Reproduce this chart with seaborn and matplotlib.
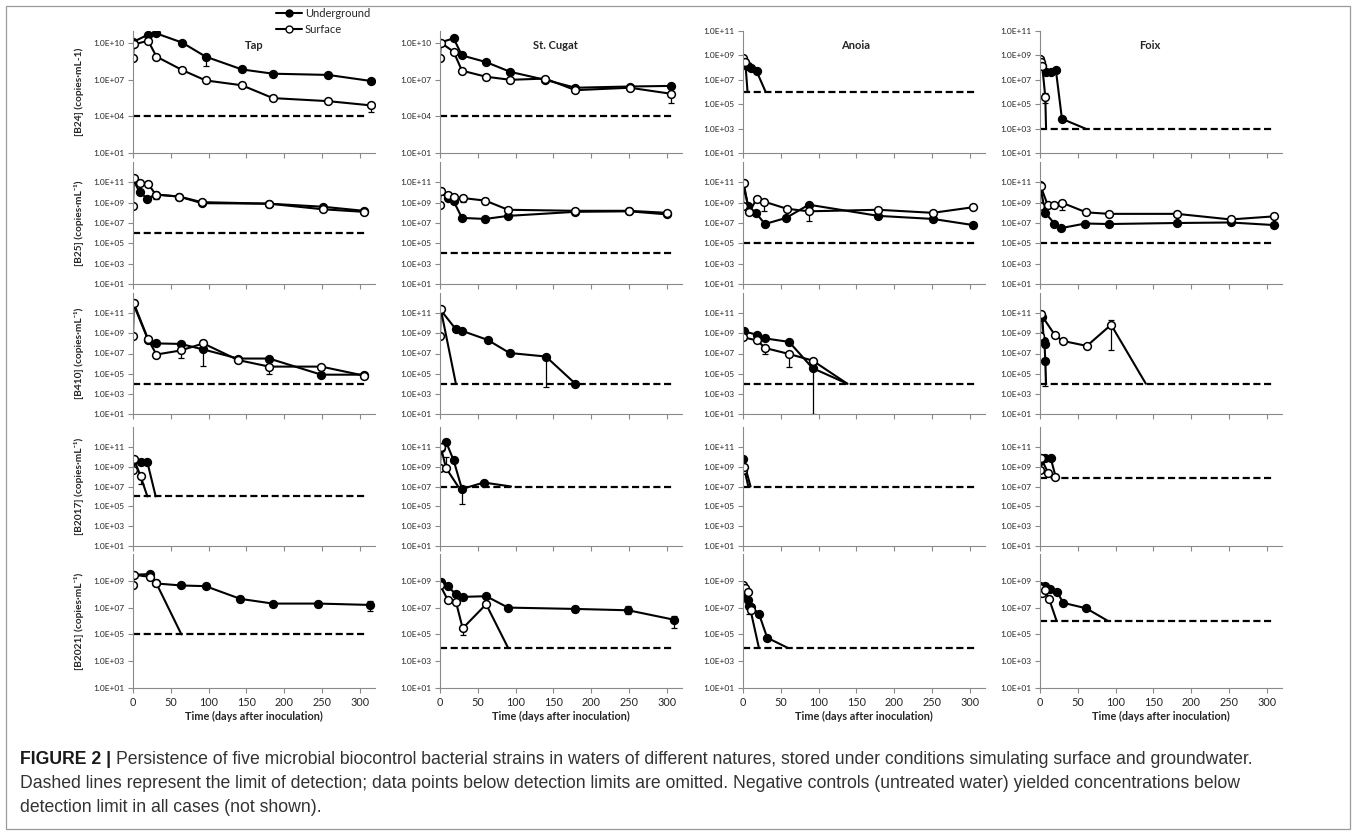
import numpy as np
import matplotlib
matplotlib.use("Agg")
import matplotlib.pyplot as plt
from matplotlib.lines import Line2D
from matplotlib.patches import Rectangle
from matplotlib.ticker import FixedLocator, FuncFormatter, NullLocator
import seaborn as sns

# ---------------------------------------------------------------- data
# values are log10(copies/mL), days after inoculation
WATERS = ["Tap", "St. Cugat", "Anoia", "Foix"]
STRAINS = ["B24", "B25", "B410", "B2017", "B2021"]
YLABELS = ["[B24] (copies·mL-1)", "[B25] (copies·mL⁻¹)", "[B410] (copies·mL⁻¹)",
           "[B2017] (copies·mL⁻¹)", "[B2021] (copies·mL⁻¹)"]

B24_UG = {
    "Tap": ([0, 20, 31, 65, 96, 144, 185, 258, 315], [10.1, 10.7, 10.8, 10.05, 8.9, 7.85, 7.5, 7.4, 6.9]),
    "St. Cugat": ([0, 18, 29, 61, 93, 139, 179, 251, 306], [10.05, 10.4, 9.0, 8.45, 7.65, 7.0, 6.35, 6.45, 6.5]),
    "Anoia": ([0, 3, 7, 10, 18], [8.6, 8.2, 8.1, 8.0, 7.7]),
    "Foix": ([0, 3, 8, 14, 21, 29], [8.5, 8.1, 7.6, 7.65, 7.8, 3.8]),
}
B24_S = {
    "Tap": ([0, 1, 20, 31, 65, 96, 144, 185, 258, 315], [8.75, 9.9, 10.2, 8.9, 7.8, 6.95, 6.55, 5.5, 5.25, 4.9]),
    "St. Cugat": ([0, 1, 18, 29, 61, 93, 139, 179, 251, 306], [8.75, 10.05, 9.3, 7.75, 7.25, 7.0, 7.1, 6.15, 6.35, 5.85]),
    "Anoia": ([0, 3], [8.8, 8.5]),
    "Foix": ([0, 1, 3, 7], [8.7, 8.45, 8.1, 5.6]),
}
B24_UG_DROP = {"Anoia": 30, "Foix": 60}
B24_S_DROP = {"Anoia": 6, "Foix": 8}
B24_LOD = [4, 4, 6, 3]
B24_ERR = [("Tap", "UG", 96, 8.15, 8.9), ("Tap", "S", 315, 4.4, 4.9),
           ("St. Cugat", "S", 306, 5.1, 6.0), ("Foix", "S", 7, 5.1, 5.9)]

B25_UG = {
    "Tap": ([0, 9, 19, 30, 61, 91, 180, 251, 305], [11.3, 10.0, 9.4, 9.8, 9.6, 8.95, 8.9, 8.6, 8.2]),
    "St. Cugat": ([0, 10, 18, 29, 60, 90, 179, 250, 300], [10.1, 9.45, 9.15, 7.5, 7.4, 7.7, 8.1, 8.15, 7.85]),
    "Anoia": ([0, 7, 17, 29, 57, 87, 179, 251, 304], [10.9, 8.65, 8.0, 6.9, 7.5, 8.8, 7.7, 7.4, 6.8]),
    "Foix": ([0, 7, 19, 28, 60, 91, 181, 252, 309], [10.75, 8.0, 6.95, 6.5, 6.95, 6.9, 7.0, 7.05, 6.8]),
}
B25_S = {
    "Tap": ([0, 1, 9, 20, 30, 61, 91, 180, 251, 305], [8.7, 11.4, 10.9, 10.85, 9.8, 9.6, 9.05, 8.9, 8.35, 8.1]),
    "St. Cugat": ([0, 1, 10, 18, 31, 60, 90, 179, 250, 300], [8.8, 10.1, 9.75, 9.55, 9.45, 9.2, 8.3, 8.2, 8.2, 8.0]),
    "Anoia": ([0, 1, 8, 18, 28, 58, 87, 179, 251, 304], [8.7, 10.9, 8.05, 9.35, 9.1, 8.4, 8.15, 8.3, 8.0, 8.55]),
    "Foix": ([0, 1, 10, 19, 29, 61, 91, 181, 252, 309], [8.7, 10.6, 8.8, 8.8, 9.0, 8.05, 7.9, 7.9, 7.35, 7.65]),
}
B25_UG_DROP = {}
B25_S_DROP = {}
B25_LOD = [6, 4, 5, 5]
B25_ERR = [("Tap", "UG", 19, 9.2, 9.5), ("Tap", "S", 30, 9.4, 9.8),
           ("St. Cugat", "S", 31, 9.1, 9.7), ("St. Cugat", "S", 60, 8.9, 9.5),
           ("Anoia", "S", 28, 8.2, 9.4), ("Anoia", "S", 87, 7.2, 8.15),
           ("Anoia", "UG", 304, 6.6, 6.8), ("Foix", "S", 29, 8.3, 9.1)]

B410_UG = {
    "Tap": ([0, 20, 31, 63, 93, 139, 180, 249, 306], [12.0, 8.35, 8.0, 7.95, 7.4, 6.5, 6.5, 4.9, 4.9]),
    "St. Cugat": ([0, 21, 29, 63, 92, 140, 179], [11.4, 9.4, 9.25, 8.35, 7.05, 6.7, 4.0]),
    "Anoia": ([1, 19, 29, 61, 92], [9.2, 8.85, 8.5, 8.15, 5.55]),
    "Foix": ([3, 5, 6, 7], [10.65, 8.2, 7.95, 6.3]),
}
B410_S = {
    "Tap": ([0, 1, 20, 31, 63, 93, 139, 180, 249, 306], [8.7, 12.0, 8.4, 6.9, 7.3, 8.0, 6.35, 5.7, 5.7, 4.8]),
    "St. Cugat": ([0, 1], [8.7, 11.4]),
    "Anoia": ([0, 19, 29, 61, 92], [8.6, 8.3, 7.55, 6.95, 6.3]),
    "Foix": ([0, 1, 20, 30, 62, 94], [8.7, 10.9, 8.8, 8.25, 7.75, 9.85]),
}
B410_UG_DROP = {"Anoia": 138, "Foix": 8}
B410_S_DROP = {"St. Cugat": 21, "Anoia": 138, "Foix": 140}
B410_LOD = [4, 4, 4, 4]
B410_ERR = [("Tap", "S", 63, 6.55, 7.3), ("Tap", "UG", 93, 5.8, 7.4), ("Tap", "S", 93, 8.0, 8.3),
            ("Tap", "S", 180, 5.0, 5.7), ("Tap", "S", 306, 4.8, 5.0),
            ("St. Cugat", "UG", 140, 3.7, 6.7), ("Anoia", "S", 29, 7.0, 7.55),
            ("Anoia", "S", 61, 5.7, 6.95), ("Anoia", "S", 92, 1.0, 6.3),
            ("Foix", "S", 94, 7.3, 10.3), ("Foix", "UG", 7, 3.8, 6.3)]

B2017_UG = {
    "Tap": ([0, 10, 19], [9.6, 9.45, 9.45]),
    "St. Cugat": ([1, 8, 18, 29, 58], [10.85, 11.5, 9.65, 6.75, 7.4]),
    "Anoia": ([0], [9.8]),
    "Foix": ([0, 7, 14], [9.6, 9.9, 9.9]),
}
B2017_S = {
    "Tap": ([0, 1, 10], [8.7, 9.8, 8.05]),
    "St. Cugat": ([0, 1, 8], [8.9, 11.0, 8.85]),
    "Anoia": ([0, 1], [8.7, 9.0]),
    "Foix": ([0, 1, 11, 20], [8.7, 9.9, 8.35, 7.95]),
}
B2017_UG_DROP = {"Tap": 30, "St. Cugat": 94, "Anoia": 10, "Foix": 21}
B2017_S_DROP = {"Tap": 19, "St. Cugat": 24, "Anoia": 7}
B2017_LOD = [6, 7, 7, 7.9]
B2017_ERR = [("St. Cugat", "UG", 29, 5.2, 6.75), ("St. Cugat", "S", 8, 8.85, 10.0),
             ("Tap", "S", 10, 7.3, 8.05)]

B2021_UG = {
    "Tap": ([0, 22, 31, 64, 96, 142, 185, 245, 313], [9.45, 9.5, 8.8, 8.65, 8.6, 7.65, 7.3, 7.3, 7.2]),
    "St. Cugat": ([1, 10, 21, 30, 61, 90, 179, 249, 309], [8.9, 8.6, 8.0, 7.8, 7.85, 7.0, 6.9, 6.8, 6.1]),
    "Anoia": ([0, 3, 6, 8, 11, 21, 32], [8.0, 8.05, 7.55, 7.1, 7.05, 6.55, 4.75]),
    "Foix": ([0, 7, 13, 22, 31, 61], [8.6, 8.6, 8.4, 8.2, 7.35, 6.95]),
}
B2021_S = {
    "Tap": ([0, 1, 22, 31], [8.7, 9.45, 9.3, 8.8]),
    "St. Cugat": ([0, 10, 21, 30, 61], [8.7, 7.6, 7.45, 5.45, 7.25]),
    "Anoia": ([0, 3, 7, 10], [8.7, 8.45, 8.2, 6.8]),
    "Foix": ([0, 3, 7, 12], [8.5, 8.1, 8.3, 7.65]),
}
B2021_UG_DROP = {"Anoia": 59, "Foix": 90}
B2021_S_DROP = {"Tap": 64, "St. Cugat": 90, "Anoia": 21, "Foix": 22}
B2021_LOD = [5, 4, 4, 6]
B2021_ERR = [("Tap", "UG", 142, 7.4, 7.9), ("Tap", "UG", 245, 7.05, 7.5), ("Tap", "UG", 313, 6.75, 7.5),
             ("St. Cugat", "S", 30, 4.95, 5.6), ("St. Cugat", "UG", 179, 6.7, 7.1),
             ("St. Cugat", "UG", 249, 6.5, 7.1), ("St. Cugat", "UG", 309, 5.5, 6.4),
             ("Anoia", "UG", 8, 6.5, 7.1)]

ROWS = [
    (B24_UG, B24_S, B24_UG_DROP, B24_S_DROP, B24_LOD, B24_ERR),
    (B25_UG, B25_S, B25_UG_DROP, B25_S_DROP, B25_LOD, B25_ERR),
    (B410_UG, B410_S, B410_UG_DROP, B410_S_DROP, B410_LOD, B410_ERR),
    (B2017_UG, B2017_S, B2017_UG_DROP, B2017_S_DROP, B2017_LOD, B2017_ERR),
    (B2021_UG, B2021_S, B2021_UG_DROP, B2021_S_DROP, B2021_LOD, B2021_ERR),
]

CAPTION_1 = ("Persistence of five microbial biocontrol bacterial strains in waters of different natures, "
             "stored under conditions simulating surface and groundwater.")
CAPTION_2 = ("Dashed lines represent the limit of detection; data points below detection limits are omitted. "
             "Negative controls (untreated water) yielded concentrations below")
CAPTION_3 = "detection limit in all cases (not shown)."

# ---------------------------------------------------------------- layout (pixels)
W, H = 1357, 835
COL_LEFT = [133, 440, 743, 1040]
COL_W = 242
ROW_BOX = [(31, 153), (162, 284), (293, 414), (427, 546), (554, 688)]
ROW_YTOP = [11, 13, 13, 13, 11]
ROW_YLAB = [11, 11, 11, 11, 9]
TITLE_X = [0.50, 0.475, 0.465, 0.455]
LOD_END = 307

sns.set_theme(style="white")
plt.rcParams["font.family"] = ["Lato", "DejaVu Sans"]

fig = plt.figure(figsize=(W / 100, H / 100), dpi=100)
fig.add_artist(Rectangle((6 / W, 1 - 829 / H), 1344 / W, 823 / H, transform=fig.transFigure,
                         fill=False, edgecolor="#9a9a9a", linewidth=0.9))

fmt = FuncFormatter(lambda v, p: "1.0E+%02d" % int(round(np.log10(v))))
ink = "#262626"


def line(ax, x, y, filled, marker=True):
    kw = dict(marker="o", markersize=5.6, markeredgewidth=1.1, markeredgecolor="black",
              markerfacecolor="black" if filled else "white") if marker else {}
    sns.lineplot(x=x, y=y, ax=ax, color="black", linewidth=1.5, estimator=None,
                 sort=False, legend=False, **kw)


for r, (ug, su, ug_drop, s_drop, lod, errs) in enumerate(ROWS):
    top, bot = ROW_BOX[r]
    for c, water in enumerate(WATERS):
        ax = fig.add_axes([COL_LEFT[c] / W, 1 - bot / H, COL_W / W, (bot - top) / H])
        ax.set_yscale("log")
        ax.set_xlim(0, 320)
        ax.set_ylim(10, 10.0 ** ROW_YTOP[r])

        # detection limit
        sns.lineplot(x=[0, LOD_END], y=[10.0 ** lod[c]] * 2, ax=ax, color="black",
                     linewidth=1.6, linestyle=(0, (3.2, 1.6)), legend=False)

        series = [(ug, ug_drop, True, "UG"), (su, s_drop, False, "S")]
        # lines and drops first, markers drawn on top
        for data, drop, filled, key in series:
            d, v = data[water]
            y = [10.0 ** k for k in v]
            if water in drop:
                line(ax, [d[-1], drop[water]], [y[-1], 10.0 ** lod[c]], filled, marker=False)
        for w, key, day, lo, hi in errs:
            if w != water:
                continue
            ax.errorbar([day], [10.0 ** hi], yerr=[[10.0 ** hi - 10.0 ** lo], [0]], fmt="none",
                        ecolor="black", elinewidth=0.9, capsize=2.2, capthick=0.9)
        for data, drop, filled, key in series:
            d, v = data[water]
            line(ax, d, [10.0 ** k for k in v], filled)

        if r == 0 and c < 2:
            yt = [1, 4, 7, 10]
        else:
            yt = list(range(1, ROW_YLAB[r] + 1, 2))
        ax.yaxis.set_major_locator(FixedLocator([10.0 ** k for k in yt]))
        ax.yaxis.set_major_formatter(fmt)
        ax.yaxis.set_minor_locator(NullLocator())
        ax.xaxis.set_major_locator(FixedLocator(range(0, 301, 50)))
        ax.set_xlabel("")
        ax.set_ylabel("")
        for s in ["top", "right"]:
            ax.spines[s].set_visible(False)
        for s in ["left", "bottom"]:
            ax.spines[s].set_color("#8a8a8a")
            ax.spines[s].set_linewidth(0.8)
        ax.tick_params(axis="both", which="major", direction="out", length=3.5, width=0.8,
                       color="#8a8a8a", labelsize=6, labelcolor=ink, pad=2.5, left=True, bottom=True)
        if r < 4:
            ax.tick_params(axis="x", labelbottom=False)
        else:
            ax.tick_params(axis="x", labelsize=7.8, pad=3)
            ax.set_xlabel("Time (days after inoculation)", fontsize=7.8, fontweight="bold",
                          color=ink, labelpad=2)
        ax.set_facecolor("none")

        if r == 0:
            ax.text(TITLE_X[c], 0.885, water, transform=ax.transAxes, ha="center", va="center",
                    fontsize=8, fontweight="bold", color=ink)
            if c == 0:
                handles = [Line2D([], [], color="black", lw=1.5, marker="o", ms=5, mfc="black", mec="black"),
                           Line2D([], [], color="black", lw=1.5, marker="o", ms=5, mfc="white", mec="black")]
                ax.legend(handles, ["Underground", "Surface"], loc="upper left",
                          bbox_to_anchor=((276 - 133) / COL_W, 1 + 23 / 122), frameon=False,
                          fontsize=8, handlelength=2.3, handletextpad=0.3, labelspacing=0.45,
                          borderpad=0, borderaxespad=0)

    fig.text(79 / W, 1 - (top + bot) / 2 / H, YLABELS[r], rotation=90, ha="center", va="center",
             fontsize=7.3, fontweight="bold", color=ink)

cap_font = ["Liberation Sans Narrow", "Liberation Sans", "DejaVu Sans"]
cap_size = 12.7
t = fig.text(20 / W, 1 - 760 / H, "FIGURE 2 | ", fontsize=cap_size, fontweight="bold",
             family=cap_font, va="center", color="#1a1a1a")
fig.axes[0].annotate(CAPTION_1, xy=(1, 0.5), xycoords=t, va="center", ha="left", fontsize=cap_size,
                     family=cap_font, color="#333333", annotation_clip=False)
fig.text(20 / W, 1 - 784 / H, CAPTION_2, fontsize=cap_size, family=cap_font, va="center", color="#333333")
fig.text(20 / W, 1 - 808 / H, CAPTION_3, fontsize=cap_size, family=cap_font, va="center", color="#333333")

fig.savefig("out.png", dpi=100, facecolor="white")
